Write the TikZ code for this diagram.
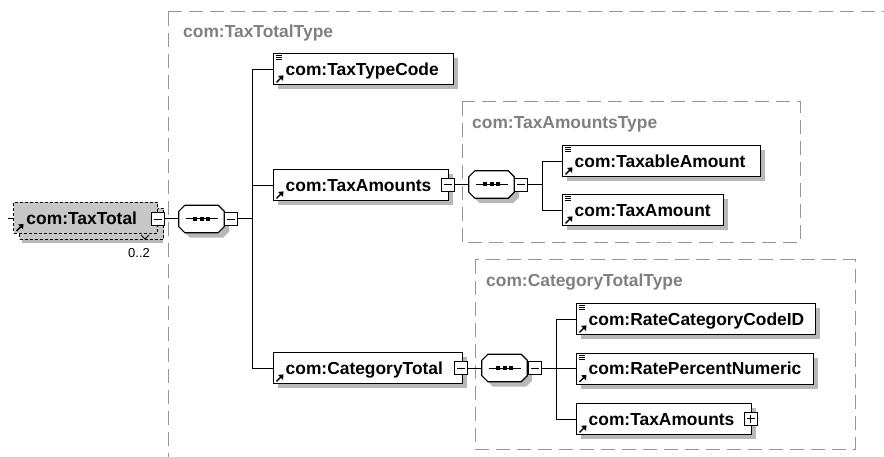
\documentclass[tikz,border=0pt]{standalone}
\usetikzlibrary{calc}
\font\elemfnt="Liberation Sans/B" at 17.4pt
\font\occfnt="Liberation Sans" at 13pt
\newcommand\elemfont{\elemfnt}
\newcommand\occfont{\occfnt}
\newcommand\octpath[2]{($(#1.north west)+(6,0)+#2$) -- ($(#1.north east)+(-6,0)+#2$) -- ($(#1.north east)+(0,6)+#2$) -- ($(#1.south east)+(0,-6)+#2$) -- ($(#1.south east)+(-6,0)+#2$) -- ($(#1.south west)+(6,0)+#2$) -- ($(#1.south west)+(0,-6)+#2$) -- ($(#1.north west)+(0,6)+#2$) -- cycle}
\newcommand\octo[1]{%
  \draw[line width=1.2pt, fill=white] \octpath{#1}{(0,0)};
  \draw[line width=1pt] ($(#1.center)+(-16,0)$) -- ($(#1.center)+(16,0)$);
  \fill ($(#1.center)+(-8.5,-2)$) rectangle ($(#1.center)+(-4.5,2)$);
  \fill ($(#1.center)+(-2,-2)$) rectangle ($(#1.center)+(2,2)$);
  \fill ($(#1.center)+(4.5,-2)$) rectangle ($(#1.center)+(8.5,2)$);}
\newcommand\refarr[1]{%
  \draw[line width=1.5pt] ($(#1.south west)+(3.5,-3)$) -- ($(#1.south west)+(8,-7.5)$);
  \fill ($(#1.south west)+(10.5,-10)$) -- ($(#1.south west)+(5,-9.5)$) -- ($(#1.south west)+(10,-4.5)$) -- cycle;}
\newcommand\simp[1]{\foreach \d in {2.5,4.5,6.5} {\draw[line width=0.8pt] ($(#1.north west)+(2.5,\d)$) -- ++(6,0);}}
\begin{document}
\begin{tikzpicture}[x=1pt, y=-1pt,
  elem/.style={draw=black, line width=1.4pt, fill=white, anchor=north west,
    inner xsep=12pt, inner ysep=0pt, minimum height=31pt, text height=12.5pt,
    text depth=0pt, align=left, font=\elemfont},
  ttbox/.style={draw=black, line width=1pt, dash pattern=on 3pt off 2pt, fill=black!22,
    anchor=north west, inner xsep=13pt, inner ysep=0pt, minimum height=31pt,
    text height=12.5pt, text depth=0pt, align=left, font=\elemfont},
  tog/.style={draw=black, line width=0.9pt, fill=white, minimum width=13pt,
    minimum height=13pt, inner sep=0pt,
    path picture={\draw[line width=0.9pt] ([xshift=2.5pt]path picture bounding box.west) -- ([xshift=-2.5pt]path picture bounding box.east);}},
  togplus/.style={draw=black, line width=0.9pt, fill=white, minimum width=13pt,
    minimum height=13pt, inner sep=0pt,
    path picture={\draw[line width=0.9pt] ([xshift=2.5pt]path picture bounding box.west) -- ([xshift=-2.5pt]path picture bounding box.east);
      \draw[line width=0.9pt] ([yshift=-2.5pt]path picture bounding box.north) -- ([yshift=2.5pt]path picture bounding box.south);}},
  seq/.style={draw=none, minimum width=45pt, minimum height=27pt, inner sep=0pt},
  cont/.style={draw=black!41, line width=1pt, dash pattern=on 14pt off 7pt},
  lbl/.style={anchor=base west, text=black!50, font=\elemfont, inner sep=0pt},
  conn/.style={draw=black, line width=1pt}]
\useasboundingbox (0,0) rectangle (884,457);
\fill[white] (0,0) rectangle (884,457);

% shadows
\fill[black!28] (278,58) rectangle (458,89);
\fill[black!28] (278,174) rectangle (453,205);
\fill[black!28] (278,357) rectangle (467,388);
\fill[black!28] (567,150) rectangle (765,181);
\fill[black!28] (567,199) rectangle (728,230);
\fill[black!28] (581,308) rectangle (820,339);
\fill[black!28] (581,357.5) rectangle (818,388.5);
\fill[black!28] (581,408) rectangle (756,439);
\fill[black!28] (22,237) rectangle (163,243);

% containers
\draw[cont] (168,12) -- (884,12);
\draw[cont] (168,12) -- (168,457);
\node[lbl] (l0) at (183,38) {com:TaxTotalType};
\draw[cont] (462,102) rectangle (800,243);
\node[lbl] (l1) at (472,129) {com:TaxAmountsType};
\draw[cont] (475,260) rectangle (855,449);
\node[lbl] (l2) at (486,287) {com:CategoryTotalType};

% root element
\node[ttbox, minimum width=144pt] (ttback) at (19,208) {};
\node[ttbox, text width=118pt] (tt) at (13,202) {com:TaxTotal};
\refarr{tt}
\draw[line width=0.8pt] (141,235) -- (145,239) -- (149,235);
\node[anchor=base west, font=\occfont, inner sep=0pt] (occ) at (128,258) {0..2};

% element boxes
\node[elem, text width=156pt] (ttc) at (273,53) {com:TaxTypeCode};
\simp{ttc}\refarr{ttc}
\node[elem, text width=151pt] (tam) at (273,169) {com:TaxAmounts};
\refarr{tam}
\node[elem, text width=165pt] (ct) at (273,352) {com:CategoryTotal};
\refarr{ct}
\node[elem, text width=174pt] (txa) at (562,145) {com:TaxableAmount};
\simp{txa}\refarr{txa}
\node[elem, text width=137pt] (tx) at (562,194) {com:TaxAmount};
\simp{tx}\refarr{tx}
\node[elem, text width=215pt] (rcc) at (576,303) {com:RateCategoryCodeID};
\simp{rcc}\refarr{rcc}
\node[elem, text width=213pt] (rpn) at (576,352.5) {com:RatePercentNumeric};
\simp{rpn}\refarr{rpn}
\node[elem, text width=151pt] (ta2) at (576,403) {com:TaxAmounts};
\refarr{ta2}

% sequence compositors (shadow, then octagon)
\node[seq] (s1) at (201.5,219) {};
\node[seq] (s2) at (491.5,184.5) {};
\node[seq] (s3) at (504.5,368) {};
\fill[black!28] \octpath{s1}{(5,5)};
\fill[black!28] \octpath{s2}{(5,5)};
\fill[black!28] \octpath{s3}{(5,5)};
\octo{s1}\octo{s2}\octo{s3}

% toggles
\node[tog] (ttm) at (157.5,219) {};
\node[tog] (s1m) at (231,219) {};
\node[tog] (tamm) at (447.5,184.5) {};
\node[tog] (ctm) at (461,368) {};
\node[tog] (s2m) at (521,184.5) {};
\node[tog] (s3m) at (535,368) {};
\node[togplus] (ta2p) at (750.5,418.5) {};

% connectors
\coordinate (stub) at (8,219);
\draw[conn] (stub) -- (stub -| tt.west);
\draw[conn] (ttm.east) -- (s1.west);
\coordinate (j1) at (252,219);
\draw[conn] (s1m.east) -- (j1);
\draw[conn] (j1) |- (ttc.west);
\draw[conn] (j1) |- (tam.west);
\draw[conn] (j1) |- (ct.west);

\draw[conn] (tamm.east) -- (s2.west);
\coordinate (j2) at (542,184.5);
\draw[conn] (s2m.east) -- (j2);
\draw[conn] (j2) |- (txa.west);
\draw[conn] (j2) |- (tx.west);

\draw[conn] (ctm.east) -- (s3.west);
\coordinate (j3) at (556,368);
\draw[conn] (s3m.east) -- (j3);
\draw[conn] (j3) |- (rcc.west);
\draw[conn] (j3) |- (rpn.west);
\draw[conn] (j3) |- (ta2.west);
\end{tikzpicture}
\end{document}
